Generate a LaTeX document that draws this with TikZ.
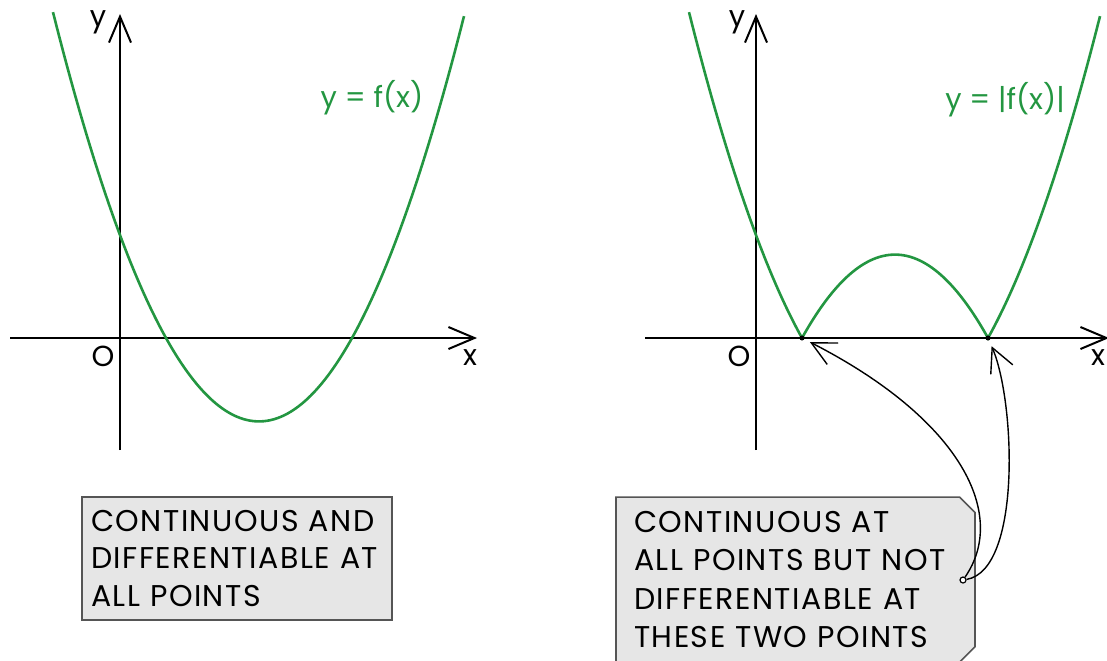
\documentclass[tikz,border=0pt]{standalone}
\usepackage{fontspec}
\setmainfont{Poppins}
\newfontfamily\notefont{Poppins}[LetterSpace=5]
\usetikzlibrary{arrows.meta, shapes.misc, positioning}
\definecolor{graphgreen}{RGB}{35,150,65}
\definecolor{boxfill}{RGB}{230,230,230}
\definecolor{boxgrey}{RGB}{85,85,85}

\begin{document}
\begin{tikzpicture}[
    x=0.5pt, y=-0.5pt,
    every node/.style={font=\fontsize{14.5}{18.75}\selectfont},
    axis/.style={line width=1pt, -{Straight Barb[length=13pt, width=11pt]}},
    curve/.style={line width=1.3pt, graphgreen},
    notebox/.style={draw=boxgrey, fill=boxfill, line width=0.8pt, align=left, font=\notefont\fontsize{15}{18.5}\selectfont},
    pointer/.style={line width=0.7pt, -{Straight Barb[length=12pt, width=12pt]}, shorten >=3pt},
    cusp/.style={circle, fill=black, inner sep=0pt, minimum size=2.5pt}
]
\useasboundingbox (0,0) rectangle (1107,660);

\coordinate (xstartL) at (10,338);
\coordinate (xendL) at (477,338);
\coordinate (ystartL) at (120,450);
\coordinate (yendL) at (120,14);
\draw [axis] (xstartL) -- (xendL);
\draw [axis] (ystartL) -- (yendL);
\node (ylabL) at (98,22) {y};
\node (xlabL) at (470,358) {x};
\node (originL) at (103,356) {O};
\draw [curve] plot[domain=53:464, samples=120, smooth] (\x, {338 - 0.00965*(\x-166)*(\x-352)});
\node (graphL) [text=graphgreen] at (372,98) {y = f(x)};

\coordinate (xstartR) at (645,338);
\coordinate (xendR) at (1109,338);
\coordinate (ystartR) at (756,450);
\coordinate (yendR) at (756,14);
\draw [axis] (xstartR) -- (xendR);
\draw [axis] (ystartR) -- (yendR);
\node (ylabR) at (737,22) {y};
\node (xlabR) at (1098,358) {x};
\node (originR) at (739,356) {O};
\draw [curve] plot[domain=689:802, samples=50] (\x, {338 - 0.00965*(\x-802)*(\x-988)})
    -- plot[domain=802:988, samples=80] (\x, {338 + 0.00965*(\x-802)*(\x-988)})
    -- plot[domain=988:1100, samples=50] (\x, {338 - 0.00965*(\x-802)*(\x-988)});
\node (graphR) [text=graphgreen] at (1005,100) {y = |f(x)|};
\node (cuspA) [cusp] at (802,338) {};
\node (cuspB) [cusp] at (988,338) {};

\node (smoothbox) [notebox, inner xsep=4.5pt, text width=146pt, minimum height=61.5pt] at (237,558.5) {CONTINUOUS AND\\DIFFERENTIABLE AT\\ALL POINTS};
\node (cuspbox) [notebox, chamfered rectangle, chamfered rectangle corners={north east, south east}, chamfered rectangle xsep=4pt, inner xsep=5pt, text width=161.5pt, minimum height=82pt, font=\notefont\fontsize{15}{19.25}\selectfont] at (795.5,579.5) {CONTINUOUS AT\\ALL POINTS BUT NOT\\DIFFERENTIABLE AT\\THESE TWO POINTS};
\node (pin) [circle, draw, fill=white, line width=0.6pt, inner sep=0pt, minimum size=3pt] at (963,580) {};

\draw [pointer] (pin) .. controls (1008,515) and (962,420) .. (cuspA);
\draw [pointer] (pin) .. controls (1022,570) and (1015,400) .. (cuspB);

\end{tikzpicture}
\end{document}
